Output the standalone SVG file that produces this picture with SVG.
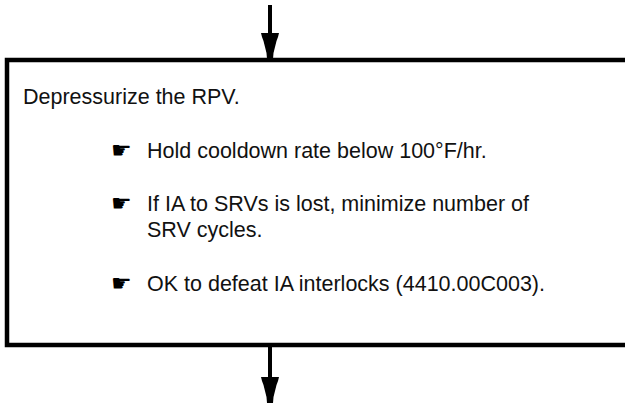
<svg xmlns="http://www.w3.org/2000/svg" width="625" height="405" viewBox="0 0 625 405">
<style>
.t{font-family:"Liberation Sans",Arial,sans-serif;font-size:21.5px;fill:#111}
.h{font-family:"DejaVu Sans",sans-serif;font-size:23px;fill:#000}
.ln{stroke:#000;stroke-width:4;fill:none}
</style>
<defs>
<marker id="ah" viewBox="0 0 26 20" refX="25" refY="10" markerWidth="26" markerHeight="20" markerUnits="userSpaceOnUse" orient="auto">
<path d="M0 1 L4 2 L8 3.5 L14 5 L20 6.5 L26 7 L26 13 L20 13.5 L14 15 L8 16.5 L4 18 L0 19 Z" fill="#000"/>
</marker>
</defs>
<g id="connectors">
<line class="ln" x1="270" y1="5" x2="270" y2="58" marker-end="url(#ah)"/>
<line class="ln" x1="270" y1="347" x2="270" y2="402" marker-end="url(#ah)"/>
</g>
<g id="step">
<rect x="7" y="60" width="640" height="285" fill="#fff" stroke="#000" stroke-width="4.5"/>
<text class="t" x="23" y="104">Depressurize the RPV.</text>
<text class="h" x="111" y="158">☛</text>
<text class="t" x="147" y="158">Hold cooldown rate below 100°F/hr.</text>
<text class="h" x="111" y="211">☛</text>
<text class="t" x="147" y="211">If IA to SRVs is lost, minimize number of</text>
<text class="t" x="147" y="237">SRV cycles.</text>
<text class="h" x="111" y="291">☛</text>
<text class="t" x="147" y="291">OK to defeat IA interlocks (4410.00C003).</text>
</g>
</svg>
